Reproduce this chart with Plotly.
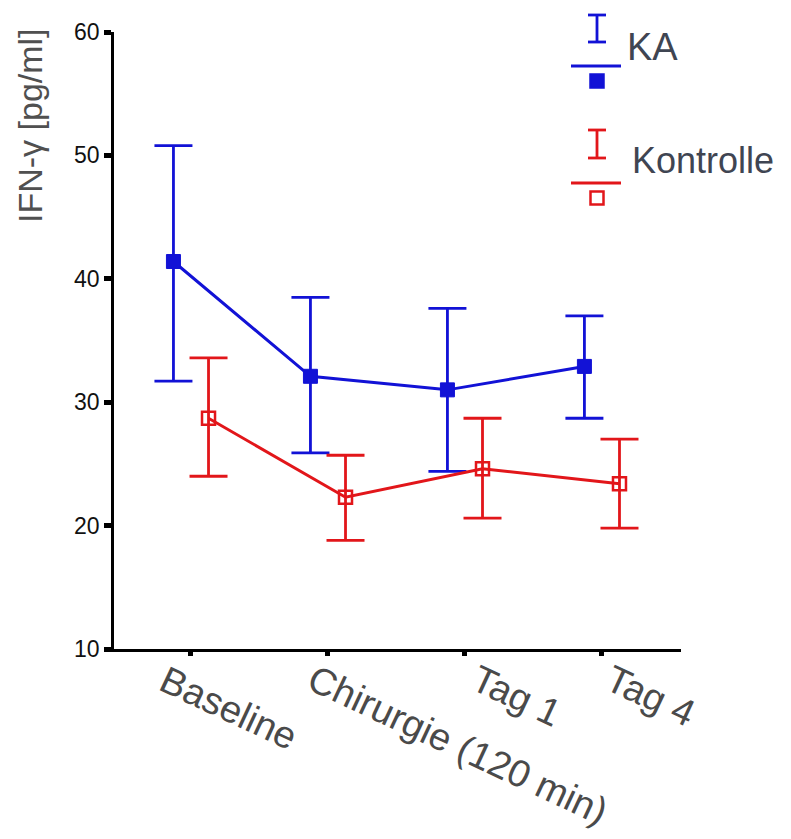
import plotly.graph_objects as go

categories = ["Baseline", "Chirurgie (120 min)", "Tag 1", "Tag 4"]
ka_mean = [41.4, 32.1, 31.0, 32.9]
ka_upper = [50.8, 38.5, 37.6, 37.0]
ka_lower = [31.7, 25.9, 24.4, 28.7]
kon_mean = [28.7, 22.3, 24.6, 23.4]
kon_upper = [33.6, 25.7, 28.7, 27.0]
kon_lower = [24.0, 18.8, 20.6, 19.8]
y_ticks = [10, 20, 30, 40, 50, 60]
series_names = ["KA", "Kontrolle"]

BLUE = "#1212d6"
RED = "#e2161a"
FONT = "Liberation Sans, Arial, sans-serif"
TXT = "#3f4552"

W, H = 791, 839
L, R, T, B = 114, 110, 32, 190
PW, PH = W - L - R, H - T - B

def px2x(px):
    return (px - L) / PW

def px2y(py):
    return (H - B - py) / PH

idx = list(range(len(categories)))
dx = 0.128
fig = go.Figure()

fig.add_trace(go.Scatter(
    x=[i - dx for i in idx], y=ka_mean, mode="lines+markers", name=series_names[0],
    line=dict(color=BLUE, width=3),
    marker=dict(symbol="square", size=14, color=BLUE, line=dict(color=BLUE, width=1)),
    error_y=dict(type="data", symmetric=False,
                 array=[u - m for u, m in zip(ka_upper, ka_mean)],
                 arrayminus=[m - l for m, l in zip(ka_mean, ka_lower)],
                 color=BLUE, thickness=2.8, width=19),
    showlegend=False, cliponaxis=False,
))
fig.add_trace(go.Scatter(
    x=[i + dx for i in idx], y=kon_mean, mode="lines+markers", name=series_names[1],
    line=dict(color=RED, width=3),
    marker=dict(symbol="square-open", size=13, color=RED, line=dict(color=RED, width=2.5)),
    error_y=dict(type="data", symmetric=False,
                 array=[u - m for u, m in zip(kon_upper, kon_mean)],
                 arrayminus=[m - l for m, l in zip(kon_mean, kon_lower)],
                 color=RED, thickness=2.8, width=19),
    showlegend=False, cliponaxis=False,
))

# x labels as rotated annotations
label_shift = [-40, -29, -2, -5]
annotations = []
for i, (c, s) in enumerate(zip(categories, label_shift)):
    annotations.append(dict(
        x=i, y=0, xref="x", yref="paper", text=c, showarrow=False,
        xanchor="left", yanchor="top", xshift=s, yshift=-6, textangle=25,
        font=dict(family=FONT, size=38, color="#4a4a4a"),
    ))

# y axis title
annotations.append(dict(
    x=px2x(30), y=px2y(126), xref="paper", yref="paper", text="IFN-γ [pg/ml]",
    showarrow=False, textangle=-90, xanchor="center", yanchor="middle",
    font=dict(family=FONT, size=34, color="#505050"),
))

# legend text
annotations.append(dict(
    x=px2x(625), y=px2y(47), xref="paper", yref="paper", text=series_names[0],
    showarrow=False, xanchor="left", yanchor="middle",
    font=dict(family=FONT, size=38, color=TXT),
))
annotations.append(dict(
    x=px2x(630), y=px2y(160), xref="paper", yref="paper", text=series_names[1],
    showarrow=False, xanchor="left", yanchor="middle",
    font=dict(family=FONT, size=36, color=TXT),
))

shapes = []
def legend_glyph(color, top, bot, liney, my, filled):
    cx = 597
    shapes.append(dict(type="line", xref="paper", yref="paper", x0=px2x(cx), x1=px2x(cx),
                       y0=px2y(top), y1=px2y(bot), line=dict(color=color, width=2.8)))
    for yy in (top, bot):
        shapes.append(dict(type="line", xref="paper", yref="paper", x0=px2x(588), x1=px2x(606),
                           y0=px2y(yy), y1=px2y(yy), line=dict(color=color, width=2.8)))
    shapes.append(dict(type="line", xref="paper", yref="paper", x0=px2x(571), x1=px2x(621),
                       y0=px2y(liney), y1=px2y(liney), line=dict(color=color, width=2.8)))
    h = 6.5
    shapes.append(dict(type="rect", xref="paper", yref="paper", x0=px2x(cx - h), x1=px2x(cx + h),
                       y0=px2y(my - h), y1=px2y(my + h),
                       fillcolor=color if filled else "white", line=dict(color=color, width=2.5)))

legend_glyph(BLUE, 15, 42, 66, 81, True)
legend_glyph(RED, 130, 158, 183, 198, False)

fig.update_layout(
    width=W, height=H, margin=dict(l=L, r=R, t=T, b=B),
    plot_bgcolor="white", paper_bgcolor="white",
    font=dict(family=FONT),
    annotations=annotations, shapes=shapes,
    xaxis=dict(range=[-0.562, 3.577], tickvals=idx, showticklabels=False,
               ticks="outside", ticklen=4, tickwidth=5, tickcolor="black",
               showline=True, linecolor="black", linewidth=2.8,
               showgrid=False, zeroline=False),
    yaxis=dict(range=[10, 60], tickvals=y_ticks, ticks="outside", ticklen=7, tickwidth=5,
               tickcolor="black", showline=True, linecolor="black", linewidth=2.8,
               showgrid=False, zeroline=False,
               tickfont=dict(family=FONT, size=23, color="#111111")),
)

fig.write_html("out.html")
